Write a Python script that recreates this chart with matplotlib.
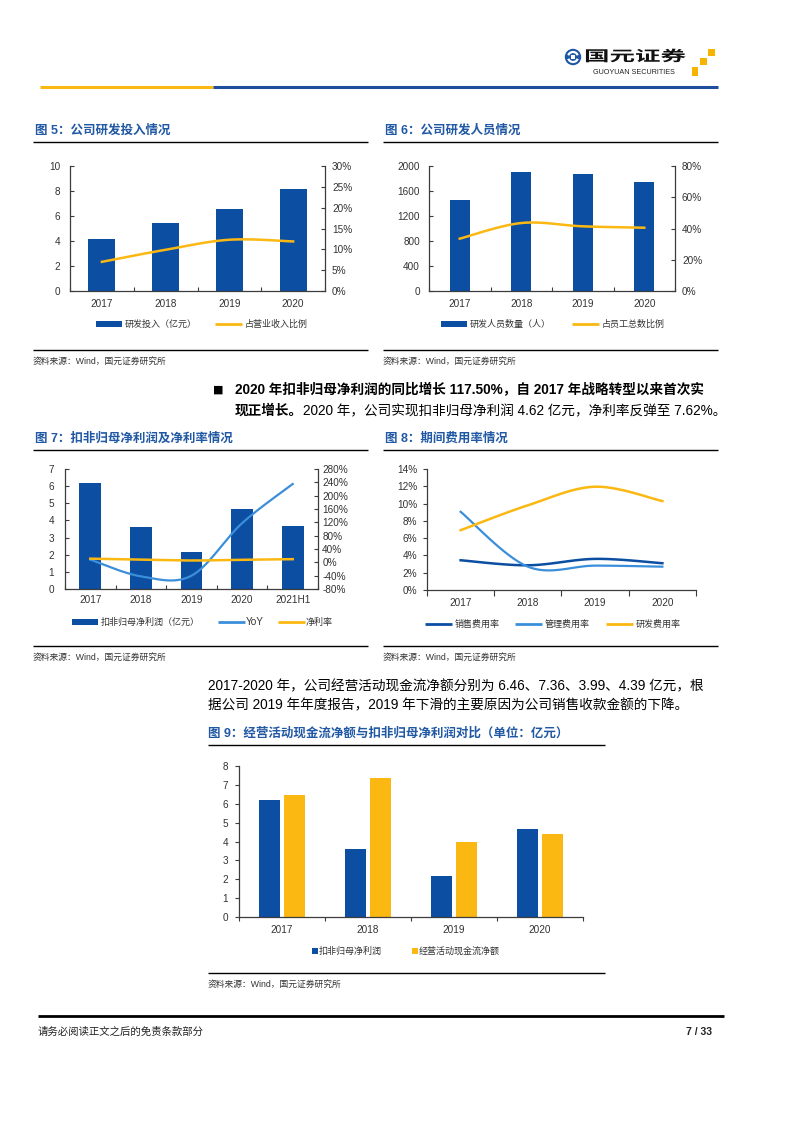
import numpy as np
import matplotlib
matplotlib.use('Agg')
import matplotlib.pyplot as plt
from matplotlib.patches import Rectangle, Circle, Arc, PathPatch
from matplotlib.textpath import TextPath
from matplotlib.font_manager import FontProperties
from matplotlib.transforms import Affine2D

plt.rcParams['font.family'] = ['Liberation Sans', 'Noto Sans CJK SC', 'DejaVu Sans']

BLUE = '#0B4EA2'
ORANGE = '#FBB813'
LBLUE = '#3B8EDA'
TITLE = '#2058A4'
AXC = '#3C3C3C'
TXT = '#333333'

# ---- data ----
years4 = ['2017', '2018', '2019', '2020']
years5 = ['2017', '2018', '2019', '2020', '2021H1']

rd_invest = [4.19, 5.44, 6.56, 8.19]          # 亿元
rd_invest_ratio = [7.0, 9.9, 12.3, 11.9]      # %
rd_staff = [1461, 1904, 1872, 1749]           # 人
rd_staff_ratio = [33.5, 43.5, 41.4, 40.5]     # %

np_deducted = [6.18, 3.61, 2.16, 4.64, 3.65]  # 亿元
np_yoy = [8, -42, -40, 117.5, 235]            # %
net_margin = [11, 8, 5.5, 7.62, 9.5]          # %

sales_rate = [3.44, 2.86, 3.6, 3.1]
admin_rate = [9.05, 2.7, 2.82, 2.7]
rd_rate = [6.92, 9.8, 11.95, 10.29]

np_deducted4 = [6.18, 3.61, 2.16, 4.64]
op_cashflow = [6.46, 7.36, 3.99, 4.39]

W, H = 794, 1123
fig = plt.figure(figsize=(W / 100, H / 100), dpi=100)
page = fig.add_axes([0, 0, 1, 1])
page.set_xlim(0, W)
page.set_ylim(H, 0)
page.axis('off')


def box(l, t, r, b):
    return fig.add_axes([l / W, 1 - b / H, (r - l) / W, (b - t) / H])


def smooth(y, n=40):
    # excel-style smoothed line through the data points (catmull-rom as bezier)
    y = np.asarray(y, float)
    P = np.column_stack([np.arange(len(y), dtype=float), y])
    P = np.vstack([P[0], P, P[-1]])
    t = np.linspace(0, 1, n)[:, None]
    segs = []
    for i in range(1, len(P) - 2):
        p0, p1, p2, p3 = P[i - 1], P[i], P[i + 1], P[i + 2]
        c1 = p1 + (p2 - p0) / 6
        c2 = p2 - (p3 - p1) / 6
        segs.append((1 - t) ** 3 * p1 + 3 * (1 - t) ** 2 * t * c1
                    + 3 * (1 - t) * t ** 2 * c2 + t ** 3 * p2)
    s = np.vstack(segs)
    return s[:, 0], s[:, 1]


def style(ax, labels, direction='in', lpad=7, xpad=5):
    n = len(labels)
    ax.set_facecolor('none')
    ax.set_xlim(-0.5, n - 0.5)
    ax.spines['top'].set_visible(False)
    ax.spines['right'].set_visible(False)
    for s in ['left', 'bottom']:
        ax.spines[s].set_color(AXC)
        ax.spines[s].set_linewidth(0.9)
    ax.set_xticks(range(n))
    ax.set_xticklabels(labels)
    ax.set_xticks(np.arange(n + 1) - 0.5, minor=True)
    ax.tick_params(axis='x', which='major', length=0, pad=xpad, labelsize=7.2, labelcolor=TXT)
    ax.tick_params(axis='x', which='minor', length=3, direction=direction, color=AXC, width=0.8)
    ax.tick_params(axis='y', length=3, direction=direction, color=AXC, width=0.8,
                   labelsize=7.2, labelcolor=TXT, pad=lpad)


def style_right(ax2, direction='in', rpad=5):
    for s in ['left', 'top', 'bottom']:
        ax2.spines[s].set_visible(False)
    ax2.spines['right'].set_color(AXC)
    ax2.spines['right'].set_linewidth(0.9)
    ax2.tick_params(axis='y', length=3, direction=direction, color=AXC, width=0.8,
                    labelsize=7.2, labelcolor=TXT, pad=rpad)


def pct(vals):
    return ['%d%%' % v for v in vals]


def txt(x, y, s, size=6.5, color=TXT, **kw):
    page.text(x, y, s, fontsize=size, va='center', color=color, **kw)


def hline(x0, x1, y, lw=1.0, color='black'):
    page.plot([x0, x1], [y, y], color=color, lw=lw, solid_capstyle='butt')


def leg_patch(x, y, w=26, h=6, color=BLUE):
    page.add_patch(Rectangle((x, y - h / 2), w, h, color=color, lw=0))


def leg_line(x, y, color, w=27):
    page.plot([x, x + w], [y, y], color=color, lw=2.0, solid_capstyle='butt')


def title(x, y, s):
    page.text(x, y, s, fontsize=9, fontweight='bold', color=TITLE, va='center')


# ---- header ----
hline(40, 213, 86.5, lw=2.2, color='#FBB813')
hline(213, 718, 86.5, lw=2.2, color='#1F4E9C')
page.add_patch(Circle((573, 57), 8.2, color='#1E56A6', lw=0))
page.add_patch(Arc((573, 57), 10, 10, theta1=200, theta2=340, color='white', lw=1.6))
page.add_patch(Arc((573, 57), 10, 10, theta1=20, theta2=160, color='white', lw=1.6))
page.add_patch(Rectangle((571, 55), 4, 4, angle=0, color='white', lw=0))
tp = TextPath((0, 0), '国元证券', size=1,
              prop=FontProperties(family='Noto Sans CJK SC', weight='bold'))
tr = Affine2D().scale(25.5, -14.5).translate(584, 61)
page.add_patch(PathPatch(tr.transform_path(tp), color='#111111', lw=0))
page.text(593, 72, 'GUOYUAN SECURITIES', fontsize=5.2, color='#222222', va='center',
          family='Liberation Sans')
for (x, y, w, h) in [(708, 49, 7, 7), (700, 58, 7, 7), (692, 67, 6, 9)]:
    page.add_patch(Rectangle((x, y), w, h, color='#F5B400', lw=0))

# ---- 图5 ----
title(35, 131, '图 5：公司研发投入情况')
hline(33, 368, 142)
ax = box(70, 166, 325, 291)
style(ax, years4, lpad=7, xpad=6)
ax.bar(range(4), rd_invest, width=0.42, color=BLUE, zorder=2)
ax.set_ylim(0, 10)
ax.set_yticks(range(0, 11, 2))
ax2 = ax.twinx()
style_right(ax2)
ax2.plot(*smooth(rd_invest_ratio), color=ORANGE, lw=1.8, zorder=3)
ax2.set_ylim(0, 30)
ax2.set_yticks(range(0, 31, 5))
ax2.set_yticklabels(pct(range(0, 31, 5)))
leg_patch(96, 324)
txt(125, 324, '研发投入（亿元）')
leg_line(215, 324, ORANGE)
txt(245, 324, '占营业收入比例')
hline(33, 368, 350)
txt(33, 361, '资料来源：Wind，国元证券研究所', size=6.3)

# ---- 图6 ----
title(385, 131, '图 6：公司研发人员情况')
hline(383, 718, 142)
ax = box(429, 166, 675, 291)
style(ax, years4, lpad=6.5, xpad=6)
ax.bar(range(4), rd_staff, width=0.33, color=BLUE, zorder=2)
ax.set_ylim(0, 2000)
ax.set_yticks(range(0, 2001, 400))
ax2 = ax.twinx()
style_right(ax2)
ax2.plot(*smooth(rd_staff_ratio), color=ORANGE, lw=1.8, zorder=3)
ax2.set_ylim(0, 80)
ax2.set_yticks(range(0, 81, 20))
ax2.set_yticklabels(pct(range(0, 81, 20)))
leg_patch(441, 324)
txt(470, 324, '研发人员数量（人）')
leg_line(572, 324, ORANGE)
txt(602, 324, '占员工总数比例')
hline(383, 718, 350)
txt(383, 361, '资料来源：Wind，国元证券研究所', size=6.3)

# ---- 正文 1 ----
page.text(213, 390, '■', fontsize=8, va='center', color='black', family='DejaVu Sans')
page.text(235, 390, '2020 年扣非归母净利润的同比增长 117.50%，自 2017 年战略转型以来首次实',
          fontsize=9.8, fontweight='bold', va='center', color='black')
t1 = page.text(235, 411, '现正增长。', fontsize=9.8, fontweight='bold', va='center', color='black')
page.annotate('2020 年，公司实现扣非归母净利润 4.62 亿元，净利率反弹至 7.62%。',
              xy=(1, 0), xycoords=t1, va='bottom', ha='left', fontsize=9.8, color='black')

# ---- 图7 ----
title(35, 439, '图 7：扣非归母净利润及净利率情况')
hline(33, 368, 450)
ax = box(65, 469, 318, 589)
style(ax, years5, lpad=8, xpad=4)
ax.bar(range(5), np_deducted, width=0.43, color=BLUE, zorder=2)
ax.set_ylim(0, 7)
ax.set_yticks(range(0, 8))
ax2 = ax.twinx()
style_right(ax2, rpad=3)
ax2.plot(*smooth(np_yoy), color=LBLUE, lw=1.6, zorder=3)
ax2.plot(*smooth(net_margin), color=ORANGE, lw=1.8, zorder=3)
ax2.set_ylim(-80, 280)
ax2.set_yticks(range(-80, 281, 40))
ax2.set_yticklabels(pct(range(-80, 281, 40)))
leg_patch(72, 622)
txt(101, 622, '扣非归母净利润（亿元）')
leg_line(218, 622, LBLUE)
txt(246, 622, 'YoY', size=7.2)
leg_line(278, 622, ORANGE)
txt(306, 622, '净利率')
hline(33, 368, 646)
txt(33, 657, '资料来源：Wind，国元证券研究所', size=6.3)

# ---- 图8 ----
title(385, 439, '图 8：期间费用率情况')
hline(383, 718, 450)
ax = box(427, 469, 696, 590)
style(ax, years4, direction='out', lpad=4, xpad=6)
ax.tick_params(axis='x', which='minor', length=4)
ax.plot(*smooth(sales_rate), color=BLUE, lw=1.8)
ax.plot(*smooth(admin_rate), color=LBLUE, lw=1.6)
ax.plot(*smooth(rd_rate), color=ORANGE, lw=1.8)
ax.set_ylim(0, 14)
ax.set_yticks(range(0, 15, 2))
ax.set_yticklabels(pct(range(0, 15, 2)))
leg_line(425, 624, BLUE)
txt(455, 624, '销售费用率')
leg_line(515, 624, LBLUE)
txt(545, 624, '管理费用率')
leg_line(606, 624, ORANGE)
txt(636, 624, '研发费用率')
hline(383, 718, 646)
txt(383, 657, '资料来源：Wind，国元证券研究所', size=6.3)

# ---- 正文 2 ----
page.text(208, 686, '2017-2020 年，公司经营活动现金流净额分别为 6.46、7.36、3.99、4.39 亿元，根',
          fontsize=9.8, va='center', color='black')
page.text(208, 705, '据公司 2019 年年度报告，2019 年下滑的主要原因为公司销售收款金额的下降。',
          fontsize=9.8, va='center', color='black')

# ---- 图9 ----
title(208, 734, '图 9：经营活动现金流净额与扣非归母净利润对比（单位：亿元）')
hline(208, 605, 745)
ax = box(239, 766, 583, 917)
style(ax, years4, direction='out', lpad=5, xpad=6)
x = np.arange(4)
ax.bar(x - 0.15, np_deducted4, width=0.245, color=BLUE, zorder=2)
ax.bar(x + 0.145, op_cashflow, width=0.245, color=ORANGE, zorder=2)
ax.set_ylim(0, 8)
ax.set_yticks(range(0, 9))
leg_patch(312, 951, w=6, h=6, color=BLUE)
txt(319, 951, '扣非归母净利润')
leg_patch(412, 951, w=6, h=6, color=ORANGE)
txt(419, 951, '经营活动现金流净额')
hline(208, 605, 973)
txt(208, 984, '资料来源：Wind，国元证券研究所', size=6.3)

# ---- footer ----
hline(38, 724, 1016, lw=2.0)
txt(38, 1032, '请务必阅读正文之后的免责条款部分', size=7.5, color='#222222')
page.text(712, 1032, '7 / 33', fontsize=7.5, fontweight='bold', va='center', ha='right',
          color='#222222')

fig.savefig('out.png', dpi=100)
